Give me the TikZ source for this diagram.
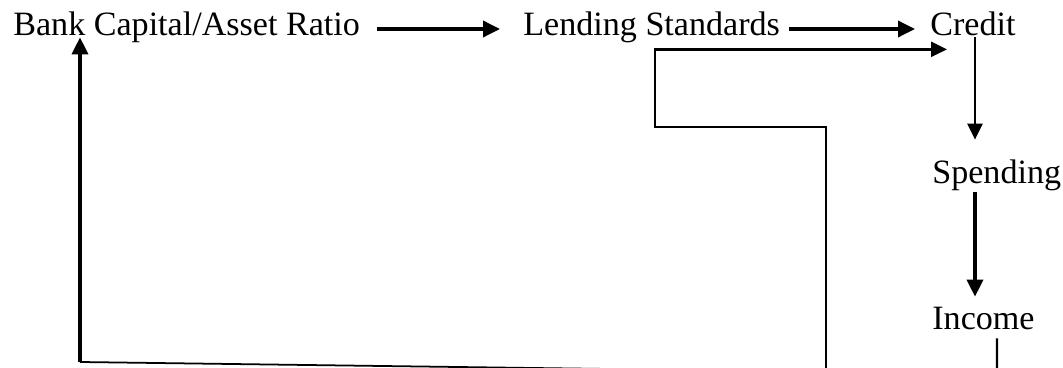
\documentclass[tikz,border=0pt]{standalone}
\usepackage{fontspec}
\setmainfont{Liberation Serif}
\usetikzlibrary{arrows.meta}

\begin{document}
\begin{tikzpicture}
    % Styles
    \tikzstyle{factor} = [inner sep=0pt, anchor=base west, text height=0.44cm, text depth=0.16cm, font=\fontsize{19.4}{23}\selectfont]
    \tikzstyle{arrow} = [-{Triangle[length=0.34cm, width=0.32cm]}, line width=2pt]
    \tikzstyle{thinarrow} = [-{Triangle[length=0.32cm, width=0.3cm]}, line width=1.5pt]
    \tikzstyle{feedback} = [line width=1.4pt]

    \useasboundingbox (0,0) rectangle (21.26,7.36);

    % Nodes - explicit coordinates
    \node[factor] (capital) at (0.26, 6.64) {Bank Capital/Asset Ratio};
    \node[factor] (lending) at (10.46, 6.64) {Lending Standards};
    \node[factor] (credit) at (18.6, 6.64) {Credit};
    \node[factor] (spending) at (18.64, 3.68) {Spending};
    \node[factor] (income) at (18.64, 0.76) {Income};

    % loose ends below the cut and bends
    \coordinate (cutA) at (16.52, -0.2);
    \coordinate (cutB) at (15.2, -0.06);
    \coordinate (cutC) at (19.94, -0.2);
    \coordinate (bendA) at (13.1, 4.82);
    \coordinate (bendB) at (1.6, 0.12);

    % Arrows
    \draw[arrow, shorten <=0.34cm, shorten >=0.46cm] (capital.east) -- (lending.west);
    \draw[arrow, shorten <=0.18cm, shorten >=0.3cm] (lending.east) -- (credit.west);
    \draw[thinarrow, shorten <=-0.14cm, shorten >=0.44cm] ([xshift=0.9cm]credit.south west) -- ([xshift=0.9cm]credit.south west |- spending.north);
    \draw[arrow, shorten >=0.22cm] ([xshift=0.86cm]spending.south west) -- ([xshift=0.86cm]spending.south west |- income.north);

    % Feedback
    \draw[feedback] ([xshift=1.3cm]income.south west) -- (cutC);
    \draw[feedback, -{Triangle[length=0.32cm, width=0.3cm]}] (cutA) |- (bendA) |- ([xshift=0.34cm, yshift=-0.1cm]credit.south west);
    \draw[feedback, line width=1pt] (cutB) -- (bendB);
    \draw[arrow] (bendB) -- ([xshift=1.34cm, yshift=0.14cm]capital.south west);
\end{tikzpicture}
\end{document}
